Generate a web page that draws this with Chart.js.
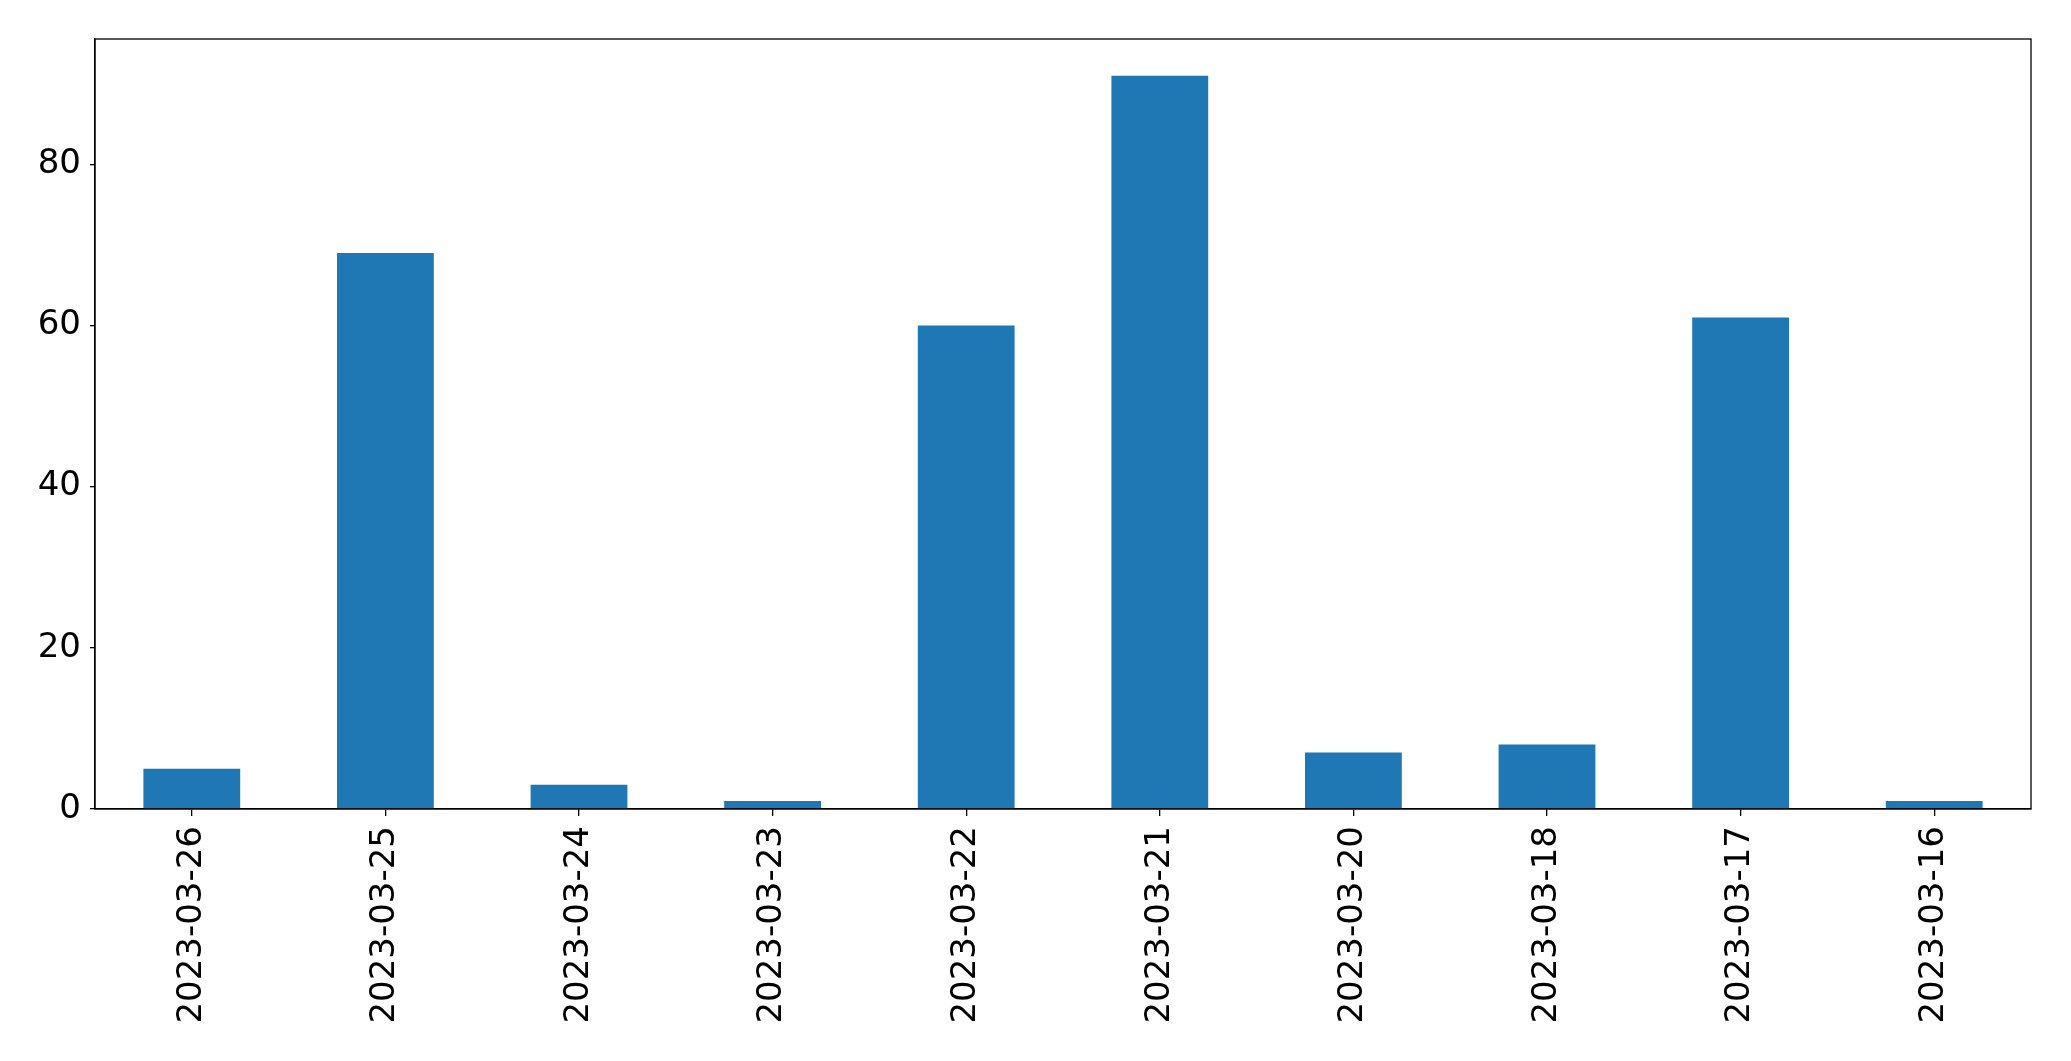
<!DOCTYPE html>
<html>
<head>
<meta charset="utf-8">
<script src="https://cdn.jsdelivr.net/npm/chart.js@4/dist/chart.umd.min.js"></script>
<style>
  html, body { margin: 0; padding: 0; background: white; }
  #wrap { width: 2071px; height: 1061px; }
</style>
</head>
<body>
<div id="wrap"><canvas id="myChart" width="2071" height="1061"></canvas></div>
<script>
// fechas del eje x (tal como salen en el grafico)
const fechas = ["2023-03-26", "2023-03-25", "2023-03-24", "2023-03-23", "2023-03-22",
  "2023-03-21", "2023-03-20", "2023-03-18", "2023-03-17", "2023-03-16"];
// conteos por fecha
const conteos = [5, 69, 3, 1, 60, 91, 7, 8, 61, 1];
// marcas del eje y
const ticksY = [0, 20, 40, 60, 80];

// marco negro alrededor del area del grafico
const marco = {
  id: "marco",
  afterDraw(chart) {
    const a = chart.chartArea;
    const ctx = chart.ctx;
    ctx.save();
    ctx.strokeStyle = "#000";
    ctx.lineWidth = 1.3;
    ctx.strokeRect(a.left, a.top, a.right - a.left, a.bottom - a.top);
    ctx.restore();
  }
};

const fuente = { family: "'DejaVu Sans', sans-serif", size: 34 };

new Chart(document.getElementById("myChart"), {
  type: "bar",
  data: {
    labels: fechas,
    datasets: [{
      data: conteos,
      backgroundColor: "#1f77b4",
      barPercentage: 0.5,
      categoryPercentage: 1.0
    }]
  },
  options: {
    responsive: false,
    animation: false,
    layout: { padding: { top: 39, right: 40, left: 0, bottom: 0 } },
    plugins: { legend: { display: false }, tooltip: { enabled: false } },
    scales: {
      x: {
        grid: { offset: false, drawOnChartArea: false, drawTicks: true, tickLength: 7, color: "#000", lineWidth: 1.3 },
        border: { display: true, color: "#000", width: 1.3 },
        ticks: { font: fuente, color: "#000", maxRotation: 90, minRotation: 90, padding: 10, autoSkip: false },
        afterFit(scale) { scale.height = 252; }
      },
      y: {
        min: 0,
        max: 95.55,
        afterBuildTicks(scale) { scale.ticks = ticksY.map(v => ({ value: v })); },
        grid: { drawOnChartArea: false, drawTicks: true, tickLength: 5, color: "#000", lineWidth: 1.3 },
        border: { display: true, color: "#000", width: 1.3 },
        ticks: { font: fuente, color: "#000", padding: 9 },
        afterFit(scale) { scale.width = 95; }
      }
    }
  },
  plugins: [marco]
});
</script>
</body>
</html>
